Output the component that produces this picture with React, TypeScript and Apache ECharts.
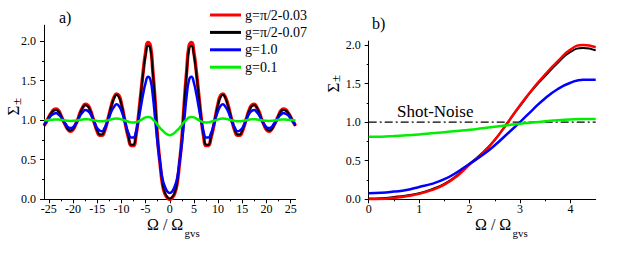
import React, { useEffect, useRef } from "react";
import * as echarts from "echarts";

// ---------- data ----------
const OMEGA_A = [
  -26, -25.5, -25, -24.5, -24, -23.5, -23, -22.5, -22, -21.5, -21, -20.5, -20, -19.5, -19, -18.5, -18, -17.5,
  -17, -16.5, -16, -15.5, -15, -14.5, -14, -13.5, -13, -12.5, -12, -11.5, -11, -10.5, -10, -9.5, -9, -8.5,
  -8, -7.5, -7, -6.5, -6, -5.5, -5, -4.5, -4, -3.5, -3, -2.5, -2, -1.5, -1, -0.5,
  0,
  0.5, 1, 1.5, 2, 2.5, 3, 3.5, 4, 4.5, 5, 5.5, 6, 6.5, 7, 7.5, 8, 8.5, 9, 9.5, 10, 10.5, 11, 11.5, 12,
  12.5, 13, 13.5, 14, 14.5, 15, 15.5, 16, 16.5, 17, 17.5, 18, 18.5, 19, 19.5, 20, 20.5, 21, 21.5, 22,
  22.5, 23, 23.5, 24, 24.5, 25, 25.5, 26,
];

const RED_A = [
  0.93, 0.98, 1.04, 1.09, 1.13, 1.14, 1.12, 1.06, 0.99, 0.93, 0.88, 0.86, 0.88, 0.94, 1.01, 1.10, 1.16, 1.20,
  1.19, 1.14, 1.05, 0.95, 0.86, 0.81, 0.81, 0.86, 0.96, 1.08, 1.20, 1.29, 1.33, 1.31, 1.21, 1.06, 0.90, 0.77,
  0.68, 0.68, 0.80, 1.03, 1.32, 1.61, 1.85, 1.98, 1.94, 1.62, 1.22, 0.76, 0.45, 0.19, 0.07, 0.02,
  0.0,
  0.02, 0.07, 0.19, 0.45, 0.76, 1.22, 1.62, 1.94, 1.98, 1.85, 1.61, 1.32, 1.03, 0.80, 0.68, 0.68, 0.77, 0.90,
  1.06, 1.21, 1.31, 1.33, 1.29, 1.20, 1.08, 0.96, 0.86, 0.81, 0.81, 0.86, 0.95, 1.05, 1.14, 1.19, 1.20, 1.16,
  1.10, 1.01, 0.94, 0.88, 0.86, 0.88, 0.93, 0.99, 1.06, 1.12, 1.14, 1.13, 1.09, 1.04, 0.98, 0.93,
];

const BLACK_A = [
  0.93, 0.98, 1.04, 1.09, 1.12, 1.13, 1.11, 1.06, 0.99, 0.93, 0.88, 0.87, 0.89, 0.94, 1.01, 1.09, 1.16, 1.19,
  1.18, 1.13, 1.05, 0.95, 0.87, 0.82, 0.82, 0.87, 0.96, 1.08, 1.19, 1.28, 1.32, 1.29, 1.20, 1.06, 0.91, 0.78,
  0.69, 0.69, 0.81, 1.03, 1.31, 1.59, 1.82, 1.94, 1.90, 1.60, 1.21, 0.76, 0.46, 0.20, 0.08, 0.03,
  0.01,
  0.03, 0.08, 0.20, 0.46, 0.76, 1.21, 1.60, 1.90, 1.94, 1.82, 1.59, 1.31, 1.03, 0.81, 0.69, 0.69, 0.78, 0.91,
  1.06, 1.20, 1.29, 1.32, 1.28, 1.19, 1.08, 0.96, 0.87, 0.82, 0.82, 0.87, 0.95, 1.05, 1.13, 1.18, 1.19, 1.16,
  1.09, 1.01, 0.94, 0.89, 0.87, 0.88, 0.93, 0.99, 1.06, 1.11, 1.13, 1.12, 1.09, 1.04, 0.98, 0.93,
];

const BLUE_A = [
  0.95, 0.98, 1.02, 1.06, 1.08, 1.09, 1.07, 1.04, 0.99, 0.95, 0.91, 0.90, 0.91, 0.95, 1.00, 1.06, 1.10, 1.13,
  1.12, 1.09, 1.03, 0.96, 0.90, 0.87, 0.86, 0.90, 0.96, 1.04, 1.12, 1.17, 1.20, 1.18, 1.12, 1.03, 0.92, 0.83,
  0.78, 0.78, 0.85, 0.99, 1.16, 1.33, 1.47, 1.55, 1.51, 1.31, 1.00, 0.70, 0.46, 0.26, 0.16, 0.10,
  0.08,
  0.10, 0.16, 0.26, 0.46, 0.70, 1.00, 1.31, 1.51, 1.55, 1.47, 1.33, 1.16, 0.99, 0.85, 0.78, 0.78, 0.83, 0.92,
  1.03, 1.12, 1.18, 1.20, 1.17, 1.12, 1.04, 0.96, 0.90, 0.86, 0.87, 0.90, 0.96, 1.03, 1.09, 1.12, 1.13, 1.10,
  1.06, 1.00, 0.95, 0.91, 0.90, 0.91, 0.95, 0.99, 1.04, 1.07, 1.09, 1.08, 1.06, 1.02, 0.98, 0.95,
];

const GREEN_A = [
  0.996, 0.998, 1.001, 1.005, 1.007, 1.008, 1.007, 1.004, 1.0, 0.995, 0.992, 0.991, 0.992, 0.995, 0.999, 1.004,
  1.009, 1.012, 1.012, 1.008, 1.002, 0.995, 0.99, 0.986, 0.986, 0.99, 0.996, 1.004, 1.012, 1.018, 1.02, 1.018,
  1.01, 1.0, 0.99, 0.98, 0.972, 0.97, 0.975, 0.985, 1.0, 1.02, 1.035, 1.04, 1.035, 1.01, 0.98, 0.94, 0.9, 0.87,
  0.84, 0.82,
  0.81,
  0.82, 0.84, 0.87, 0.9, 0.94, 0.98, 1.01, 1.035, 1.04, 1.035, 1.02, 1.0, 0.985, 0.975, 0.97, 0.972, 0.98, 0.99,
  1.0, 1.01, 1.018, 1.02, 1.018, 1.012, 1.004, 0.996, 0.99, 0.986, 0.986, 0.99, 0.995, 1.002, 1.008, 1.012,
  1.012, 1.009, 1.004, 0.999, 0.995, 0.992, 0.991, 0.992, 0.995, 1.0, 1.004, 1.007, 1.008, 1.007, 1.005, 1.001,
  0.998, 0.996,
];

const OMEGA_B = [0, 0.25, 0.5, 0.75, 1, 1.25, 1.5, 1.75, 2, 2.25, 2.5, 2.75, 3, 3.25, 3.5, 3.75, 4, 4.25, 4.5];
const RED_B = [0.0, 0.005, 0.02, 0.04, 0.07, 0.12, 0.19, 0.3, 0.45, 0.59, 0.77, 0.99, 1.22, 1.43, 1.62, 1.79, 1.94, 2.0, 1.97];
const BLACK_B = [0.01, 0.015, 0.03, 0.05, 0.08, 0.13, 0.2, 0.31, 0.46, 0.6, 0.77, 0.99, 1.21, 1.42, 1.6, 1.77, 1.91, 1.96, 1.93];
const BLUE_B = [0.08, 0.085, 0.1, 0.12, 0.16, 0.2, 0.26, 0.35, 0.46, 0.57, 0.7, 0.85, 1.0, 1.16, 1.31, 1.43, 1.51, 1.55, 1.55];
const GREEN_B = [0.81, 0.812, 0.82, 0.83, 0.84, 0.855, 0.87, 0.885, 0.9, 0.92, 0.94, 0.96, 0.98, 0.995, 1.01, 1.025, 1.035, 1.04, 1.04];
const SHOT_NOISE_X = [0, 4.5];
const SHOT_NOISE_Y = [1, 1];

const NAMES = ["g=π/2-0.03", "g=π/2-0.07", "g=1.0", "g=0.1"];
const COLORS = ["#ff0000", "#000000", "#0000ff", "#00ee00"];

const X_TICKS_A = [-25, -20, -15, -10, -5, 0, 5, 10, 15, 20, 25];
const X_TICKS_B = [0, 1, 2, 3, 4];
const Y_TICKS = [0, 0.5, 1, 1.5, 2];

const FONT = "'Liberation Serif', 'Times New Roman', 'DejaVu Serif', serif";

const zip = (xs: number[], ys: number[]) => xs.map((x, i) => [x, ys[i]]);

export default function App() {
  const ref = useRef<HTMLDivElement>(null);
  useEffect(() => {
    if (!ref.current) return;
    const chart = echarts.init(ref.current, undefined, { renderer: "svg" });

    const axisCommon = {
      type: "value",
      axisLine: { show: true, onZero: false, lineStyle: { color: "#000", width: 1 } },
      axisTick: { show: true, length: 4, lineStyle: { color: "#000", width: 1 } },
      minorTick: { show: true, splitNumber: 2, length: 2, lineStyle: { color: "#000", width: 1 } },
      splitLine: { show: false },
      minorSplitLine: { show: false },
    };
    const xLabel = (ticks: number[]) => ({
      color: "#000",
      fontFamily: FONT,
      fontSize: 12,
      margin: 4,
      customValues: ticks,
      formatter: (v: number) => (ticks.some((t) => Math.abs(t - v) < 1e-9) ? String(v) : ""),
    });
    const yLabel = {
      color: "#000",
      fontFamily: FONT,
      fontSize: 12,
      margin: 8,
      customValues: Y_TICKS,
      formatter: (v: number) => (Y_TICKS.some((t) => Math.abs(t - v) < 1e-9) ? v.toFixed(1) : ""),
    };

    const lineA = (idx: number, data: number[], width: number) => ({
      type: "line",
      name: NAMES[idx],
      xAxisIndex: 0,
      yAxisIndex: 0,
      data: zip(OMEGA_A, data),
      showSymbol: false,
      smooth: true,
      lineStyle: { color: COLORS[idx], width },
      itemStyle: { color: COLORS[idx] },
    });
    const lineB = (idx: number, data: number[], width: number) => ({
      type: "line",
      name: NAMES[idx],
      xAxisIndex: 1,
      yAxisIndex: 1,
      data: zip(OMEGA_B, data),
      showSymbol: false,
      smooth: true,
      lineStyle: { color: COLORS[idx], width },
      itemStyle: { color: COLORS[idx] },
    });

    const txt = (text: string, x: number, y: number, size: number, extra: any = {}) => ({
      type: "text",
      x,
      y,
      silent: true,
      rotation: extra.rotation || 0,
      style: {
        text,
        fontSize: size,
        fontFamily: FONT,
        fill: "#000",
        align: extra.align || "left",
        verticalAlign: "middle",
        textAlign: extra.align || "left",
        textVerticalAlign: "middle",
      },
    });

    chart.setOption({
      animation: false,
      textStyle: { fontFamily: FONT },
      legend: {
        data: NAMES,
        orient: "vertical",
        left: 205,
        top: 3,
        icon: "rect",
        itemWidth: 31,
        itemHeight: 3,
        itemGap: 3.4,
        selectedMode: false,
        textStyle: { fontFamily: FONT, fontSize: 14, color: "#000", lineHeight: 14, padding: [0, 0, 0, -1] },
      },
      grid: [
        { left: 44, top: 25.2, width: 251.5, height: 174.1 },
        { left: 368.7, top: 41.1, width: 227, height: 158.2 },
      ],
      xAxis: [
        { ...axisCommon, gridIndex: 0, min: -26, max: 26, splitNumber: 10, axisLabel: xLabel(X_TICKS_A),
          axisTick: { ...axisCommon.axisTick, customValues: X_TICKS_A } },
        { ...axisCommon, gridIndex: 1, min: 0, max: 4.5, interval: 1, axisLabel: xLabel(X_TICKS_B),
          axisTick: { ...axisCommon.axisTick, customValues: X_TICKS_B } },
      ],
      yAxis: [
        { ...axisCommon, gridIndex: 0, min: 0, max: 2.2, interval: 0.5, axisLabel: yLabel,
          axisTick: { ...axisCommon.axisTick, customValues: Y_TICKS } },
        { ...axisCommon, gridIndex: 1, min: 0, max: 2.05, interval: 0.5, axisLabel: yLabel,
          axisTick: { ...axisCommon.axisTick, customValues: Y_TICKS } },
      ],
      series: [
        lineA(0, RED_A, 3.5),
        lineA(1, BLACK_A, 2),
        lineA(2, BLUE_A, 2.5),
        lineA(3, GREEN_A, 2.5),
        lineB(1, BLACK_B, 2),
        lineB(0, RED_B, 2.5),
        lineB(2, BLUE_B, 2.5),
        lineB(3, GREEN_B, 2.5),
        {
          type: "line",
          name: "Shot-Noise",
          xAxisIndex: 1,
          yAxisIndex: 1,
          data: zip(SHOT_NOISE_X, SHOT_NOISE_Y),
          showSymbol: false,
          lineStyle: { color: "#000", width: 1.2, type: [8, 3, 2, 3] },
          z: 1,
        },
      ],
      graphic: [
        txt("a)", 59, 17.5, 16),
        txt("b)", 372, 23, 16),
        txt("Shot-Noise", 397, 111.5, 17),
        txt("Ω / Ω", 147, 224.5, 16),
        txt("gvs", 184.5, 233, 11),
        txt("Ω / Ω", 475, 224.5, 16),
        txt("gvs", 512.5, 233, 11),
        txt("Σ", 13.5, 110.5, 17, { rotation: Math.PI / 2, align: "center" }),
        txt("±", 16, 101.5, 13, { rotation: Math.PI / 2, align: "center" }),
        txt("Σ", 333, 87.5, 17, { rotation: Math.PI / 2, align: "center" }),
        txt("±", 335.5, 78.5, 13, { rotation: Math.PI / 2, align: "center" }),
      ],
    });
    return () => chart.dispose();
  }, []);
  return (
    <div
      ref={ref}
      style={{ position: "absolute", left: 0, top: 0, width: 623, height: 256, background: "#fff" }}
    />
  );
}
